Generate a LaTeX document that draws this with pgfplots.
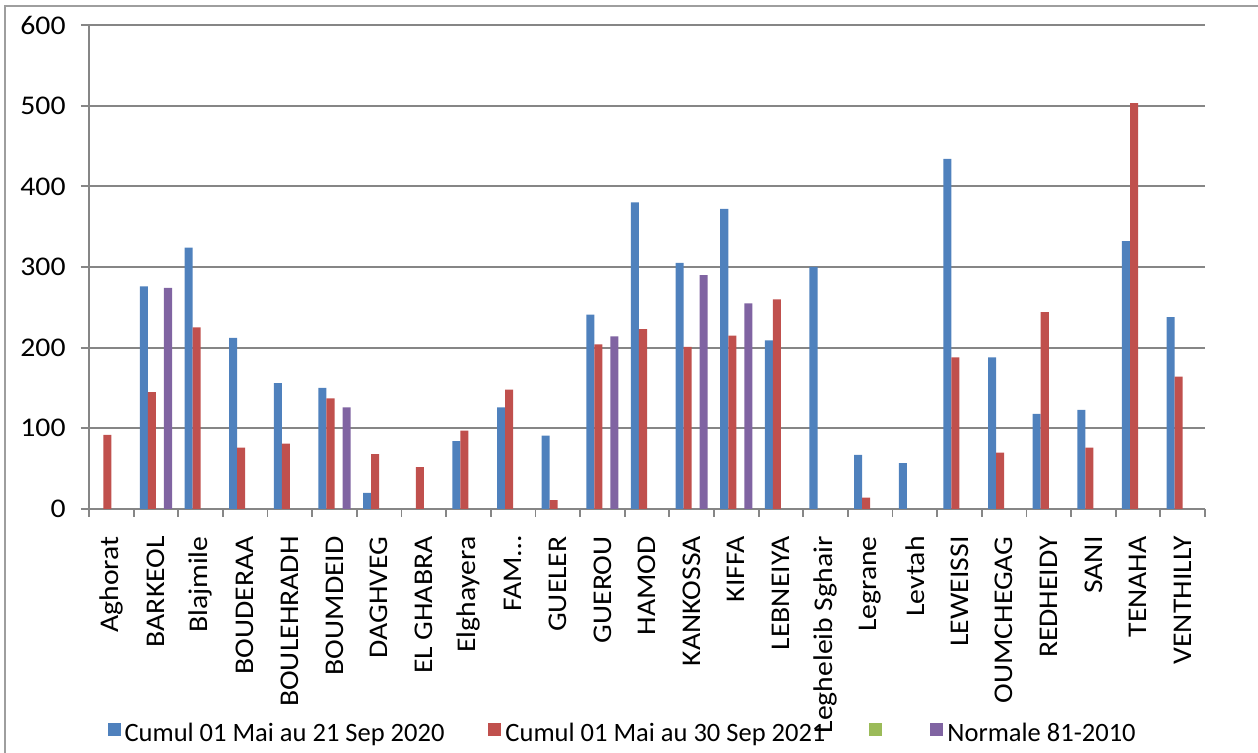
\documentclass[border=0pt]{standalone}
\usepackage{pgfplots}
\pgfplotsset{compat=1.18}
\usepackage{fontspec}
\setmainfont{Carlito}
\newfontfamily\widefont[FakeStretch=1.1]{Carlito}

\definecolor{cblue}{RGB}{79,129,189}
\definecolor{cred}{RGB}{192,80,77}
\definecolor{cgreen}{RGB}{155,187,89}
\definecolor{cpurple}{RGB}{128,100,162}
\definecolor{axgray}{RGB}{134,134,134}

\begin{document}
\begin{tikzpicture}
\useasboundingbox (0,0) rectangle (629pt,376.5pt);
\draw[axgray!80, line width=1pt] (2.5pt,-5pt) -- (2.5pt,373.5pt) -- (640pt,373.5pt);
\begin{axis}[
    at={(44.5pt,122pt)}, anchor=south west,
    scale only axis, width=558pt, height=242pt,
    ybar, bar width=0.18,
    xmin=-0.5, xmax=24.5, ymin=0, ymax=600,
    ytick={0,100,...,600},
    xtick={0,...,24},
    xticklabels={Aghorat,BARKEOL,Blajmile,BOUDERAA,BOULEHRADH,BOUMDEID,DAGHVEG,
      EL GHABRA,Elghayera,{FAM…},GUELER,GUEROU,HAMOD,KANKOSSA,KIFFA,LEBNEIYA,
      Legheleib Sghair,Legrane,Levtah,LEWEISSI,OUMCHEGAG,REDHEIDY,SANI,TENAHA,VENTHILLY},
    minor xtick={-0.5,0.5,...,24.5},
    major x tick style={draw=none},
    axis x line*=bottom, axis y line*=left,
    axis line style={axgray, line width=0.9pt},
    tick style={axgray, line width=0.9pt},
    tick align=outside, tick pos=left,
    major tick length=4pt, minor tick length=4pt,
    ymajorgrids, grid style={axgray, line width=0.9pt},
    tick label style={font=\widefont\fontsize{13.5}{16}\selectfont, black},
    /pgf/number format/assume math mode=true,
    yticklabel style={inner xsep=7.5pt},
    xticklabel style={rotate=90, anchor=east, inner xsep=9.5pt},
    legend columns=-1,
    legend style={at={(0.479,-0.465)}, anchor=center, draw=none, fill=none,
      font=\fontsize{13.25}{16}\selectfont,
      /tikz/every even column/.append style={column sep=20pt}},
    legend image code/.code={\fill[#1] (0pt,-1pt) rectangle (6.5pt,5.5pt);},
]
\addplot[fill=cblue, draw=none, bar shift=-0.27] coordinates {
  (1,276) (2,324) (3,212) (4,156) (5,150) (6,20) (8,84) (9,126) (10,91)
  (11,241) (12,380) (13,305) (14,372) (15,209) (16,300) (17,67) (18,57)
  (19,434) (20,188) (21,118) (22,123) (23,332) (24,238)};
\addlegendentry{Cumul 01 Mai au 21 Sep 2020}
\addplot[fill=cred, draw=none, bar shift=-0.09] coordinates {
  (0,92) (1,145) (2,225) (3,76) (4,81) (5,137) (6,68) (7,52) (8,97) (9,148)
  (10,11) (11,204) (12,223) (13,201) (14,215) (15,260) (17,14) (19,188)
  (20,70) (21,244) (22,76) (23,503) (24,164)};
\addlegendentry{Cumul 01 Mai au 30 Sep 2021}
\addlegendimage{fill=cgreen, draw=none}
\addlegendentry{\hspace{5pt}}
\addplot[fill=cpurple, draw=none, bar shift=0.27] coordinates {
  (1,274) (5,126) (11,214) (13,290) (14,255)};
\addlegendentry{Normale 81-2010}
\end{axis}
\end{tikzpicture}
\end{document}
